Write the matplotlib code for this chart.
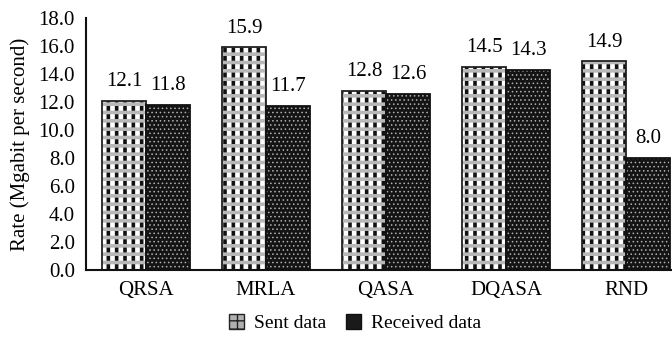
import matplotlib.pyplot as plt
import numpy as np
from matplotlib.patches import Patch

plt.rcParams['font.family'] = ['Liberation Serif', 'DejaVu Serif']

methods = ['QRSA', 'MRLA', 'QASA', 'DQASA', 'RND']
sent = [12.1, 15.9, 12.8, 14.5, 14.9]
received = [11.8, 11.7, 12.6, 14.3, 8.0]

FS = 15
W = 0.367

fig = plt.figure(figsize=(6.72, 3.4), dpi=100)
ax = fig.add_axes([86 / 672, 0.206, (672 - 86) / 672, 0.741])

x = np.arange(len(methods))
xs = x - W / 2
xr = x + W / 2


def hbar(xp, h, face, hcol, hatch, lw):
    with plt.rc_context({'hatch.linewidth': lw}):
        ax.bar(xp, h, W, color=face, edgecolor=hcol, hatch=hatch, linewidth=0)


# sent: black squares, white columns, grey bands
hbar(xs, sent, '#111111', 'none', None, 1)
hbar(xs, sent, 'none', 'white', '||', 3.4)
hbar(xs, sent, 'none', '#b8b8b8', '--', 2.6)
b1 = ax.bar(xs, sent, W, color='none', edgecolor='#222222', linewidth=1.3)

# received: black with small white dots
hbar(xr, received, '#141414', '#b0b0b0', '....', 0.6)
b2 = ax.bar(xr, received, W, color='none', edgecolor='#111111', linewidth=1.3)

ax.bar_label(b1, labels=[f'{v:.1f}' for v in sent], padding=7, fontsize=FS)
ax.bar_label(b2, labels=[f'{v:.1f}' for v in received], padding=7, fontsize=FS)

ax.set_xlim(-0.5, 4.383)
ax.set_ylim(0, 18)
yt = np.arange(0, 18.1, 2)
ax.set_yticks(yt)
ax.set_yticklabels([f'{v:.1f}' for v in yt], fontsize=FS)
ax.set_xticks(x)
ax.set_xticklabels(methods, fontsize=FS)
ax.tick_params(length=0)
ax.tick_params(axis='y', pad=8)
ax.tick_params(axis='x', pad=8)
ax.set_ylabel('Rate (Mgabit per second)', fontsize=FS, labelpad=6)

for s in ['top', 'right']:
    ax.spines[s].set_visible(False)
for s in ['left', 'bottom']:
    ax.spines[s].set_linewidth(1.5)
    ax.spines[s].set_color('#111111')

# legend proxies
with plt.rc_context({'hatch.linewidth': 1.5}):
    h1 = Patch(facecolor='#b0b0b0', edgecolor='#222222', hatch='++', linewidth=1)
h2 = Patch(facecolor='#1a1a1a', edgecolor='#111111', linewidth=1)
fig.legend([h1, h2], ['Sent data', 'Received data'], loc='center',
           bbox_to_anchor=(0.528, 0.05), ncol=2, frameon=False, fontsize=14,
           handlelength=0.8, handleheight=0.8, columnspacing=1.0, handletextpad=0.5)

fig.savefig('out.png', dpi=100)
